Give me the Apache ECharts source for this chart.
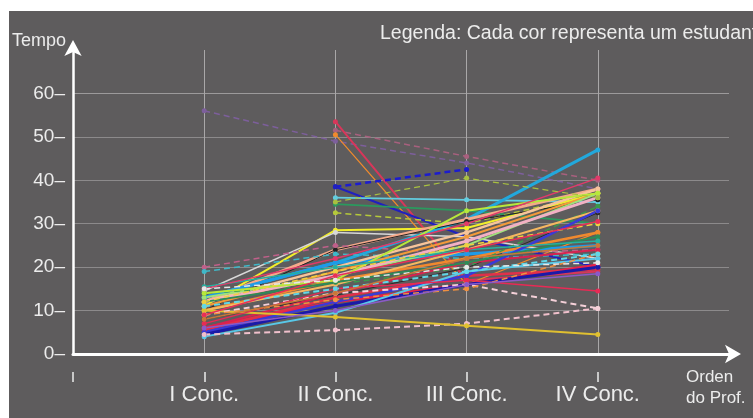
<!DOCTYPE html>
<html>
<head>
<meta charset="utf-8">
<script src="https://cdn.jsdelivr.net/npm/echarts@6/dist/echarts.min.js"></script>
<style>
  html, body { margin: 0; padding: 0; background: #fff; }
  #chart { width: 753px; height: 418px; }
</style>
</head>
<body>
<div id="chart"></div>
<script>
// categorias do eixo x (vazias nas pontas, como no original)
const categories = ["", "I Conc.", "II Conc.", "III Conc.", "IV Conc.", ""];

// tempo de cada estudante em cada concurso (null = sem ponto)
const concI   = [56, null, null, null, null, null, null, null, null, 11, 14.5, 13, 12, 10, 8, 20, 19, 13, 10, 11, 12, 13, 14, 12, 10, 6, 5.5, 6, 5, 4.5, 4, 4.5, 10, 9, 7, 12, 14, 15.5, 9, 12, 11, 15, 9, 15, 8, 6, null];
const concII  = [49, 51.5, 53.5, 50.5, 38.5, 38.5, 36, 34.5, 32.5, 28.5, 28, 21, 24, 24, 13.5, 25, 23, 21, 17, 19, 20, 18, 16, 18, 16, 12, 13, 14, 12, 11, 9.5, 5.5, 8.5, 14, 15, 16.5, 17, 20, 12.5, 19, 15, 22, 18, 17, 14, 10, 35];
const concIII = [44, 45.5, 17, 16, 42.5, 27, 35.5, 33, 30, 29, 27, 31, 31, 30.5, 19.8, 23, 22, 23, 22, 27, 28, 25, 20, 26, 24, 16, 18, 21, 18, 16, 19, 7, 6.5, 16, 17, 21, 33, 24, 15, 25, 19, 30, 24, 20, 22, 16, 40.5];
const concIV  = [38, 40, 19, 28, null, 20, 35, 30, 37, 37, 22, 47, 38, 35.5, 32.5, 24, 23, 25, 28, 37, 38, 37, 34, 36, 33, 20.5, 19.5, 24, 33, 20, 22, 10.5, 4.5, 10.5, 14.5, 27, 37, 26, 23, 30, 23, 40.5, 30.5, 21, 25, 18.5, 36];

// estilo de cada linha
const lineColors = ["#7d5f9c", "#a8607e", "#d8365a", "#f08a2c", "#1c1ccf", "#2020c0", "#62cde0", "#2b9a5e", "#b5c93a", "#f2ee2a",
  "#d8d8d8", "#22a8dc", "#f5a98a", "#222222", "#2a2a2a", "#c0608a", "#3fb8c8", "#1e9be8", "#f0892e", "#f39a3a",
  "#f7c49a", "#9fe27a", "#3a9a4a", "#f2b0c4", "#f5b860", "#e8204a", "#e0304a", "#d82250", "#3a3ad8", "#1a1aa8",
  "#58c8e8", "#f0c0cc", "#e0c030", "#f4d0d8", "#e82a55", "#2e8b57", "#b8e83a", "#26b0a0", "#f09040", "#f0d040",
  "#60d8e8", "#e03a6a", "#e83058", "#e8e8e8", "#c87838", "#8a5ac8", "#a8c040"];
const lineDashed = [1, 1, 0, 0, 1, 0, 0, 0, 1, 0, 0, 0, 0, 0, 0, 1, 1, 0, 0, 0, 0, 0, 1, 0, 0, 0, 0, 0, 0, 0, 0, 1, 0, 1, 0, 0, 0, 0, 1, 1, 1, 0, 0, 1, 0, 0, 1];
const lineWidths = [1.5, 1.5, 2, 1.2, 2.5, 2, 1.8, 1.8, 1.5, 2, 1.5, 3, 3, 1, 1, 1.5, 1.5, 3, 2.5, 2, 2.5, 2, 1.5, 3, 2, 3, 2.5, 2, 2.5, 3, 2, 2, 2, 2, 1.5, 2, 2, 1.5, 1.5, 1.5, 2, 1.5, 1.5, 1.5, 1.5, 1.5, 1.2];

const font = "Liberation Sans";
const textColor = "#ececec";

const series = concI.map((v, i) => ({
  type: "line",
  data: [null, v, concII[i], concIII[i], concIV[i], null],
  symbol: "circle",
  symbolSize: 5,
  silent: true,
  itemStyle: { color: lineColors[i] },
  lineStyle: {
    color: lineColors[i],
    width: lineWidths[i],
    type: lineDashed[i] ? [6, 4] : "solid",
  },
}));

const chart = echarts.init(document.getElementById("chart"));
chart.setOption({
  animation: false,
  backgroundColor: "#ffffff",
  textStyle: { fontFamily: font },
  graphic: [
    { type: "rect", z: -10, shape: { x: 9, y: 11, width: 744, height: 407 }, style: { fill: "#5e5c5d" } },
    { type: "text", left: 12, top: 32, style: { text: "Tempo", fill: textColor, font: "18px " + font } },
    { type: "text", left: 380, top: 24, style: { text: "Legenda: Cada cor representa um estudante", fill: textColor, font: "19.5px " + font } },
    { type: "text", left: 686, top: 367, style: { text: "Orden\ndo Prof.", fill: textColor, font: "17px " + font, lineHeight: 21 } },
  ],
  grid: [
    { left: 73, right: 24, top: 50, bottom: 64 },
    // grade auxiliar só para as marcas "|" (sem marca na ponta da seta)
    { left: 73, right: 155, top: 50, bottom: 64 },
  ],
  xAxis: [
    {
      type: "category",
      data: categories,
      boundaryGap: false,
      axisLine: {
        lineStyle: { color: "#ffffff", width: 3 },
        symbol: ["none", "arrow"],
        symbolSize: [14, 16],
        symbolOffset: [0, 12],
      },
      axisTick: { show: false },
      axisLabel: {
        interval: 0,
        margin: 29,
        color: textColor,
        fontSize: 22,
        lineHeight: 24,
        fontFamily: font,
      },
      splitLine: {
        show: true,
        lineStyle: { color: ["transparent", "#a9a7a8", "#a9a7a8", "#a9a7a8", "#a9a7a8", "transparent"], width: 1 },
      },
    },
    {
      gridIndex: 1,
      type: "category",
      data: categories.slice(0, 5),
      boundaryGap: false,
      position: "bottom",
      offset: 18,
      axisLine: { show: false, onZero: false },
      axisLabel: { show: false },
      axisTick: { show: true, length: 10, interval: 0, lineStyle: { color: textColor, width: 1.5 } },
      splitLine: { show: false },
    },
  ],
  yAxis: [
    {
      type: "value",
      min: 0,
      max: 70,
      interval: 10,
      axisLine: {
        show: true,
        lineStyle: { color: "#ffffff", width: 2.5 },
        symbol: ["none", "arrow"],
        symbolSize: [13, 16],
        symbolOffset: [0, 10],
      },
      axisTick: { show: false },
      axisLabel: {
        margin: 8,
        color: textColor,
        fontSize: 19,
        fontFamily: font,
        formatter: (v) => (v === 70 ? "" : v + "–"),
      },
      splitLine: {
        lineStyle: {
          color: ["#8c8a8b", "#8c8a8b", "#8c8a8b", "#8c8a8b", "#8c8a8b", "#8c8a8b", "#9c9a9b", "transparent"],
          width: 1.2,
        },
      },
    },
    { gridIndex: 1, type: "value", min: 0, max: 70, show: false },
  ],
  series: series,
});
</script>
</body>
</html>
